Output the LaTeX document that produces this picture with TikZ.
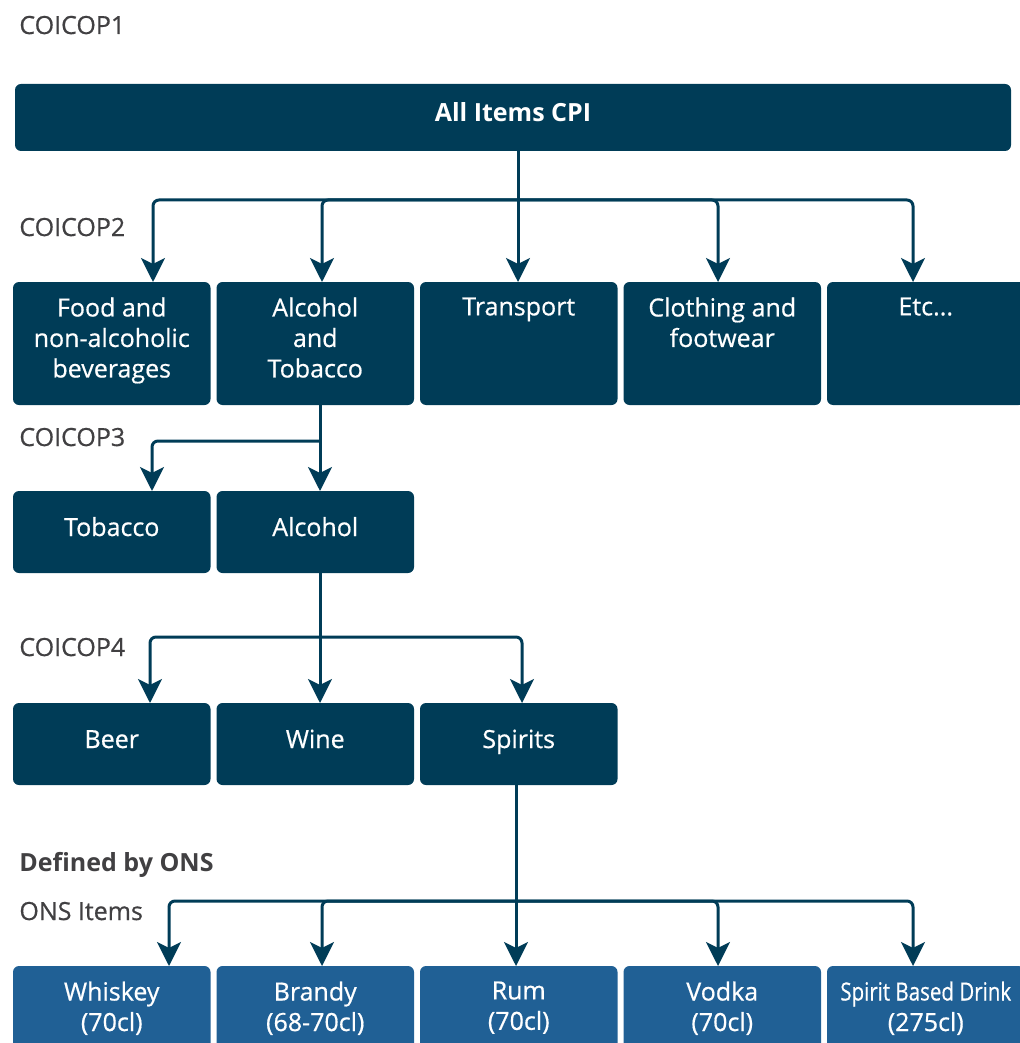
\documentclass[tikz,border=0pt]{standalone}
\usepackage{fontspec}
\setmainfont{Open Sans}[UprightFeatures={FakeBold=0.6}]
\usetikzlibrary{positioning,arrows.meta}
\definecolor{nightblue}{HTML}{003C57}
\definecolor{oceanblue}{HTML}{206095}
\definecolor{labelgrey}{HTML}{414042}
\newcommand{\boxtext}[1]{\parbox[c][46pt][t]{96pt}{\centering #1}}

\begin{document}
\begin{tikzpicture}[x=0.5pt,y=-0.5pt,
		cattext/.style={font=\fontsize{12.5}{15.25}\selectfont},
		catbox/.style={cattext,fill=nightblue,text=white,rounded corners=3pt,inner sep=0pt,outer sep=0pt,minimum width=98.75pt,minimum height=61.5pt},
		onebox/.style={catbox,minimum height=41pt,text height=9pt,text depth=5pt},
		itembox/.style={catbox,fill=oceanblue},
		level/.style={cattext,text=labelgrey,inner sep=0pt,anchor=base west},
		arrow/.style={draw=nightblue,line width=1.5pt,rounded corners=3pt,-{Stealth[length=12pt,width=12pt,inset=3pt]}}]
		\useasboundingbox (0,0) rectangle (1019,1043);

		\node[level]												(lvl1)		at (19,34)		{COICOP1};
		\node[catbox,minimum width=498pt,minimum height=33.5pt,text height=9pt,text depth=5pt,
			font=\fontsize{12.5}{15.25}\selectfont\bfseries]		(cpi)		at (513,117.5)	{All Items CPI};

		\node[level]												(lvl2)		at (19,236)		{COICOP2};
		\node[catbox,anchor=north west]								(food)		at (13,282)		{\boxtext{Food and\\non-alcoholic\\beverages}};
		\node[catbox,right=3pt of food]								(alctob)					{\boxtext{Alcohol\\and\\Tobacco}};
		\node[catbox,right=3pt of alctob]							(transport)					{\boxtext{Transport}};
		\node[catbox,right=3pt of transport]						(clothing)					{\boxtext{Clothing and\\footwear}};
		\node[catbox,right=3pt of clothing]							(etc)						{\boxtext{Etc...}};

		\node[level]												(lvl3)		at (19,446)		{COICOP3};
		\node[onebox,anchor=north west]								(tobacco)	at (13,491)		{Tobacco};
		\node[onebox,right=3pt of tobacco]							(alcohol)					{Alcohol};

		\node[level]												(lvl4)		at (19,656)		{COICOP4};
		\node[onebox,anchor=north west]								(beer)		at (13,703)		{Beer};
		\node[onebox,right=3pt of beer]								(wine)						{Wine};
		\node[onebox,right=3pt of wine]								(spirits)					{Spirits};

		\node[level,font=\fontsize{12.5}{15.25}\selectfont\bfseries]	(onsdef)	at (19,871)		{Defined by ONS};
		\node[level]												(onsitems)	at (19,920)		{ONS Items};
		\node[itembox,anchor=north west]							(whiskey)	at (13,966)		{\boxtext{Whiskey\\(70cl)}};
		\node[itembox,right=3pt of whiskey]							(brandy)					{\boxtext{Brandy\\(68-70cl)}};
		\node[itembox,right=3pt of brandy]							(rum)						{\boxtext{Rum\\(70cl)}};
		\node[itembox,right=3pt of rum]								(vodka)						{\boxtext{Vodka\\(70cl)}};
		\node[itembox,right=3pt of vodka]							(spiritdrink)				{\boxtext{\scalebox{0.82}[1]{Spirit Based Drink}\\(275cl)}};

		\coordinate (bus1) at (518,200);
		\coordinate (bus2) at (320,441);
		\coordinate (bus3) at (320,637);
		\coordinate (bus4) at (516,901);

		\draw[arrow] (518,0 |- cpi.south) -- (518,0 |- transport.north);
		\draw[arrow] (bus1) -| (153,0 |- food.north);
		\draw[arrow] (bus1) -| (322,0 |- alctob.north);
		\draw[arrow] (bus1) -| (718,0 |- clothing.north);
		\draw[arrow] (bus1) -| (913,0 |- etc.north);

		\draw[arrow] (320,0 |- alctob.south) -- (320,0 |- alcohol.north);
		\draw[arrow] (bus2) -| (152,0 |- tobacco.north);

		\draw[arrow] (320,0 |- alcohol.south) -- (320,0 |- wine.north);
		\draw[arrow] (bus3) -| (150,0 |- beer.north);
		\draw[arrow] (bus3) -| (522,0 |- spirits.north);

		\draw[arrow] (516,0 |- spirits.south) -- (516,0 |- rum.north);
		\draw[arrow] (bus4) -| (169,0 |- whiskey.north);
		\draw[arrow] (bus4) -| (322,0 |- brandy.north);
		\draw[arrow] (bus4) -| (718,0 |- vodka.north);
		\draw[arrow] (bus4) -| (913,0 |- spiritdrink.north);
	\end{tikzpicture}
\end{document}
